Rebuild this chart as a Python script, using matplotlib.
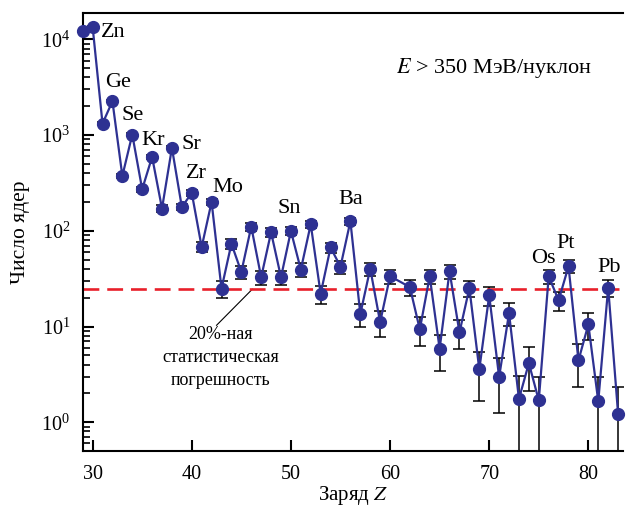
import matplotlib
matplotlib.use('Agg')
import matplotlib.pyplot as plt
from matplotlib.ticker import LogLocator, NullFormatter

plt.rcParams['font.family'] = ['Liberation Serif', 'DejaVu Serif']
plt.rcParams['mathtext.fontset'] = 'stix'

# заряд ядра (Z = 61 отсутствует)
z = list(range(29, 61)) + list(range(62, 84))
counts = [12200, 13550, 1320, 2260, 374, 1014, 272, 591, 171, 735,
          177, 249, 67.7, 200, 24.9, 73.3, 37.1, 110.6, 32.7, 96.4,
          32.7, 99.5, 39.3, 117, 22.0, 67.0, 42.2, 126, 13.5, 40.2,
          11.1, 33.6,
          25.8, 9.33, 33.4, 5.85, 37.7, 8.67, 25.2, 3.56, 21.1, 2.96,
          13.8, 1.75, 4.14, 1.69, 33.4, 18.8, 42.5, 4.42, 10.5, 1.65,
          25.5, 1.22]
errors = [110, 116, 36, 48, 19, 32, 16.5, 24, 13, 27,
          13.3, 15.8, 8.2, 14, 5.0, 8.6, 6.1, 10.5, 5.7, 9.8,
          5.7, 10.0, 6.3, 10.8, 4.7, 8.2, 6.5, 11.2, 3.7, 6.3,
          3.3, 5.8,
          5.1, 3.1, 5.8, 2.4, 6.1, 2.9, 5.0, 1.9, 4.6, 1.7,
          3.7, 1.3, 2.0, 1.3, 5.8, 4.3, 6.5, 2.1, 3.2, 1.3,
          5.0, 1.1]

# подписи элементов
elements = ['Zn', 'Ge', 'Se', 'Kr', 'Sr', 'Zr', 'Mo', 'Sn', 'Ba', 'Os', 'Pt', 'Pb']
label_x = [32.04, 32.55, 34.0, 36.08, 39.97, 40.47, 43.6, 49.84, 56.08, 75.43, 77.72, 82.06]
label_y = [11900, 3575, 1615, 885, 804, 400, 285, 173, 214, 51.5, 74.5, 41.8]

stat_level = 24.5
blue = '#2E3192'

fig = plt.figure(figsize=(6.26, 5.09), dpi=100)
ax = fig.add_axes([0.1321, 0.1139, 0.8632, 0.8611])

ax.errorbar(z, counts, yerr=errors, fmt='none', ecolor='black', elinewidth=1.1,
            capsize=4, capthick=1.1, zorder=2)
ax.hlines(stat_level, 29, 83.1, colors='#E8202A', linestyles=(0, (6, 3)), lw=1.9, zorder=2.5)
ax.plot(z, counts, '-', color=blue, lw=1.6, marker='o', ms=8.5, zorder=3, clip_on=False)

for name, x, y in zip(elements, label_x, label_y):
    ax.text(x, y, name, fontsize=16, ha='center', va='center')

ax.text(42.9, 4.76, '20%-ная\nстатистическая\nпогрешность', ha='center', va='center',
        fontsize=13, linespacing=1.45)
ax.plot([42.5, 46.1], [10.3, stat_level], color='black', lw=0.8, zorder=2)

ax.text(0.580, 0.875, '$E$ > 350 МэВ/нуклон', transform=ax.transAxes, fontsize=16,
        ha='left', va='center')

ax.set_yscale('log')
ax.set_ylim(0.5, 1.9e4)
ax.set_xlim(29, 83.5)
ax.set_xticks([30, 40, 50, 60, 70, 80])
ax.yaxis.set_major_locator(LogLocator(base=10, numticks=10))
ax.yaxis.set_minor_locator(LogLocator(base=10, subs=range(2, 10), numticks=10))
ax.yaxis.set_minor_formatter(NullFormatter())

ax.tick_params(axis='both', which='major', direction='in', length=8, width=1.5, labelsize=14.5)
ax.tick_params(axis='y', which='minor', direction='in', length=5, width=1.2)
ax.tick_params(axis='x', which='major', pad=10)
ax.tick_params(axis='y', which='major', pad=9)
ax.tick_params(top=False, right=False)

for side in ['left', 'bottom', 'top']:
    ax.spines[side].set_linewidth(1.5)
ax.spines['right'].set_visible(False)

ax.set_xlabel('Заряд $Z$', fontsize=15, labelpad=0)
ax.set_ylabel('Число ядер', fontsize=15.5, labelpad=8)

fig.savefig('out.png', dpi=100)
